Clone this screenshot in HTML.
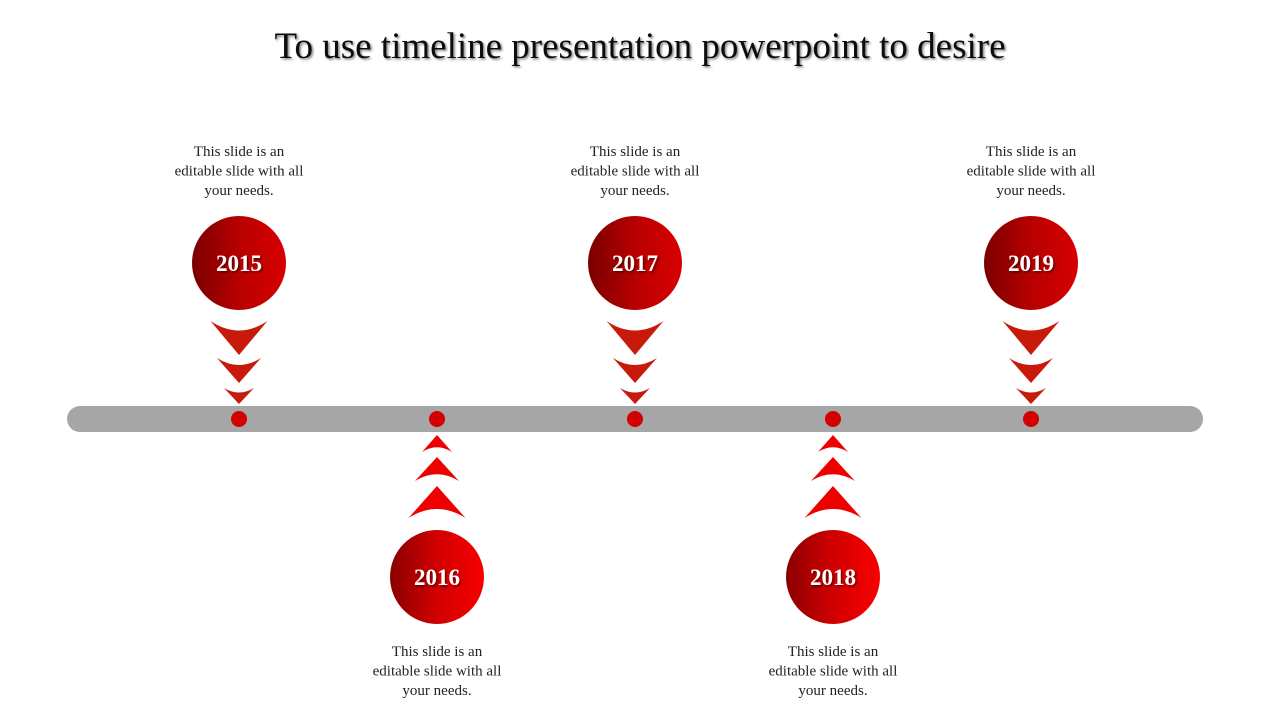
<!DOCTYPE html>
<html><head><meta charset="utf-8"><style>
body{margin:0;background:#fff}
svg text{font-family:"Liberation Serif",serif}
</style></head><body>
<svg id="s" width="1280" height="720" viewBox="0 0 1280 720">
<defs>
<linearGradient id="gTop" x1="0" x2="1" y1="0" y2="0"><stop offset="0" stop-color="#7a0000"/><stop offset="0.5" stop-color="#b80000"/><stop offset="1" stop-color="#d80000"/></linearGradient>
<linearGradient id="gBot" x1="0" x2="1" y1="0" y2="0"><stop offset="0" stop-color="#8a0000"/><stop offset="0.5" stop-color="#d00000"/><stop offset="1" stop-color="#f80000"/></linearGradient>
<filter id="sh"><feDropShadow dx="1.5" dy="1.5" stdDeviation="1" flood-color="#000" flood-opacity="0.5"/></filter>
</defs>
<text x="640" y="58" text-anchor="middle" font-size="37" fill="#111" filter="url(#sh)">To use timeline presentation powerpoint to desire</text>
<rect x="67" y="406" width="1136" height="26" rx="13" fill="#a6a6a6"/>
<g id="items"></g>
</svg>
<script>
const years=["2015","2016","2017","2018","2019"];
const positions=["top","bottom","top","bottom","top"];
const desc=["This slide is an","editable slide with all","your needs."];
const x0=239, step=198;
const ns="http://www.w3.org/2000/svg";
const g=document.getElementById('items');
function mk(t,a){const e=document.createElementNS(ns,t);for(const k in a)e.setAttribute(k,a[k]);return e;}
function chev(cx,yTop,w,h,down,fill){
  const hw=w/2,c=h*0.35;
  let d;
  if(down) d=`M${cx-hw},${yTop} Q${cx},${yTop+c*1.6} ${cx+hw},${yTop} L${cx},${yTop+h} Z`;
  else d=`M${cx-hw},${yTop+h} Q${cx},${yTop+h-c*1.6} ${cx+hw},${yTop+h} L${cx},${yTop} Z`;
  return mk('path',{d:d,fill:fill});
}
years.forEach((y,i)=>{
  const cx=x0+i*step, top=positions[i]==="top";
  const grp=mk('g',{});
  
  
  const dot=mk('circle',{cx:cx,cy:419,r:8,fill:'#d20000'});
  
  
  grp.appendChild(dot);
  const cy=top?263:577;
  const c=mk('circle',{cx:cx,cy:cy,r:47,fill:top?'url(#gTop)':'url(#gBot)'});
  
  
  grp.appendChild(c);
  const t=mk('text',{x:cx,y:cy+8,'text-anchor':'middle','font-size':23,'font-weight':'bold',fill:'#fff',filter:'url(#sh)'});
  t.textContent=y;
  
  
  grp.appendChild(t);
  const ar=mk('g',{});
  
  
  if(top){
    ar.appendChild(chev(cx,321,57,34,true,'#c81a0a'));
    ar.appendChild(chev(cx,358,44,25,true,'#c81a0a'));
    ar.appendChild(chev(cx,388,30,16,true,'#c81a0a'));
  }else{
    ar.appendChild(chev(cx,435,30,17,false,'#ee0000'));
    ar.appendChild(chev(cx,457,44,24,false,'#ee0000'));
    ar.appendChild(chev(cx,486,57,32,false,'#ee0000'));
  }
  grp.appendChild(ar);
  const ty=top?156:656;
  const tx=mk('text',{x:cx,y:ty,'text-anchor':'middle','font-size':15,fill:'#222'});
  
  
  desc.forEach((l,j)=>{const s=mk('tspan',{x:cx,y:ty+j*19.5});s.textContent=l;tx.appendChild(s);});
  grp.appendChild(tx);
  g.appendChild(grp);
});
</script>
</body></html>
